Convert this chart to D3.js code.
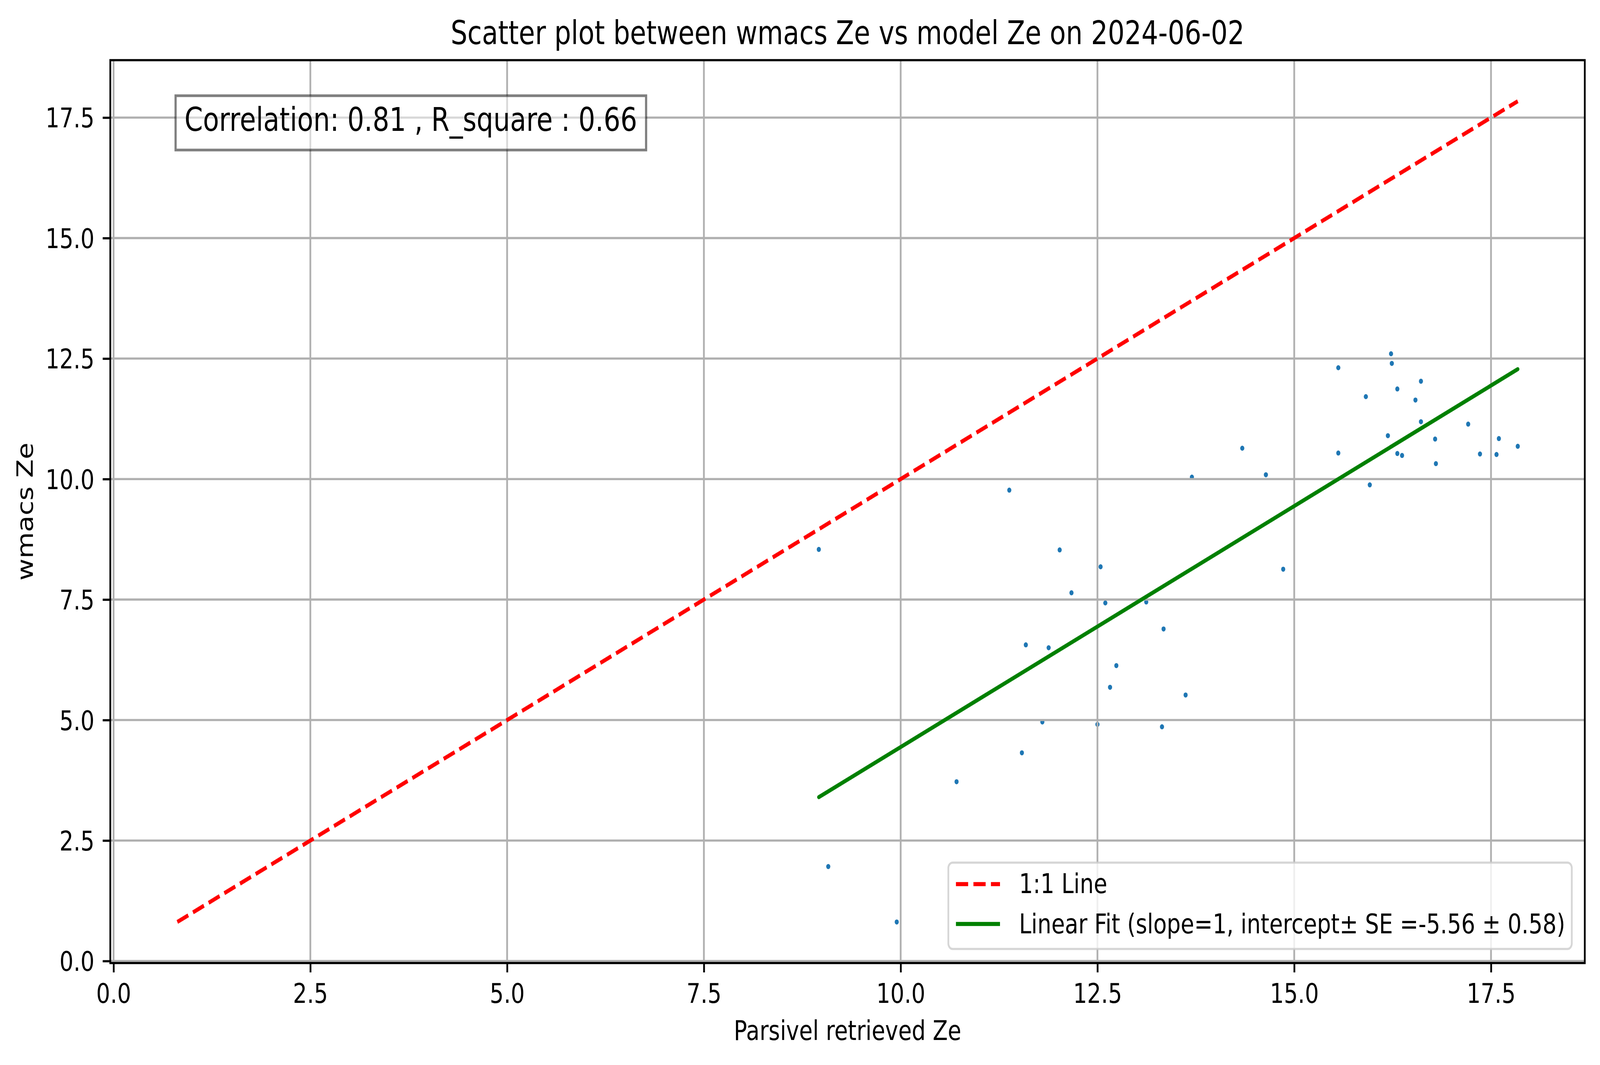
<!DOCTYPE html>
<html>
<head>
<meta charset="utf-8">
<script src="https://cdn.jsdelivr.net/npm/d3@7"></script>
<style>
  html, body { margin: 0; padding: 0; background: #fff; overflow: hidden; }
  svg { display: block; }
  text { font-family: "DejaVu Sans", sans-serif; fill: #000; }
</style>
</head>
<body>
<div id="chart"></div>
<script>
// scatter values
const parsivelZe = [8.96, 9.08, 9.95, 10.71, 11.38, 11.54, 11.59, 11.80, 11.88, 12.02,
  12.17, 12.50, 12.54, 12.60, 12.66, 12.74, 13.12, 13.32, 13.34, 13.62,
  13.70, 14.34, 14.64, 14.86, 15.56, 15.56, 15.91, 15.96, 16.19, 16.23,
  16.24, 16.31, 16.31, 16.37, 16.54, 16.61, 16.61, 16.79, 16.80, 17.21,
  17.36, 17.57, 17.60, 17.84];
const wmacsZe = [8.54, 1.96, 0.81, 3.72, 9.77, 4.32, 6.56, 4.96, 6.50, 8.53,
  7.64, 4.91, 8.18, 7.43, 5.68, 6.13, 7.45, 4.86, 6.89, 5.52,
  10.04, 10.64, 10.09, 8.13, 12.31, 10.54, 11.71, 9.88, 10.90, 12.60,
  12.40, 11.87, 10.53, 10.49, 11.64, 12.03, 11.19, 10.83, 10.32, 11.14,
  10.52, 10.51, 10.84, 10.68];
const fitSlope = 1, fitIntercept = -5.56, fitSE = 0.58;
const correlation = 0.81, rSquare = 0.66;
const xTicks = [0, 2.5, 5, 7.5, 10, 12.5, 15, 17.5];
const yTicks = [0, 2.5, 5, 7.5, 10, 12.5, 15, 17.5];
const legendLabels = ["1:1 Line",
  `Linear Fit (slope=${fitSlope}, intercept\u00b1 SE =${fitIntercept} \u00b1 ${fitSE})`];

const width = 5048, height = 2726;
const m = {left: 348, right: 5000, top: 154, bottom: 2465};
const colors = {pt: "#1f77b4", one: "#ff0000", fit: "#008000", grid: "#b0b0b0"};
const lw = 10.4;

const all = parsivelZe.concat(wmacsZe);
const lo = d3.min(all), hi = d3.max(all);
const padv = 0.05 * (hi - lo);

const x = d3.scaleLinear().domain([lo - padv, hi + padv]).range([m.left, m.right]);
const y = d3.scaleLinear().domain([lo - padv, hi + padv]).range([m.bottom, m.top]);
const fmt = d3.format(".1f");

// drawn in a fixed 5048x2726 box, stretched to fill the window
const svg = d3.select("#chart").append("svg")
  .attr("viewBox", `0 0 ${width} ${height}`)
  .attr("width", "100vw").attr("height", "100vh")
  .attr("preserveAspectRatio", "none");

svg.append("rect").attr("width", width).attr("height", height).attr("fill", "#fff");

// points sit under the grid like in matplotlib
const pts = parsivelZe.map((d, i) => ({x: d, y: wmacsZe[i]}));
svg.append("g").selectAll("circle").data(pts).enter().append("circle")
  .attr("cx", d => x(d.x)).attr("cy", d => y(d.y))
  .attr("r", 6.5).attr("fill", colors.pt);

// grid
let g_grid = svg.append("g");
g_grid.selectAll(".gx").data(xTicks).enter().append("line")
  .attr("x1", d => x(d)).attr("x2", d => x(d))
  .attr("y1", m.top).attr("y2", m.bottom)
  .attr("stroke", colors.grid).attr("stroke-width", 5.6);
g_grid.selectAll(".gy").data(yTicks).enter().append("line")
  .attr("y1", d => y(d)).attr("y2", d => y(d))
  .attr("x1", m.left).attr("x2", m.right)
  .attr("stroke", colors.grid).attr("stroke-width", 5.6);

// 1:1 line and fit
const line = d3.line().x(d => x(d[0])).y(d => y(d[1]));
svg.append("path").attr("d", line([[lo, lo], [hi, hi]]))
  .attr("stroke", colors.one).attr("stroke-width", lw).attr("fill", "none")
  .attr("stroke-dasharray", "38.5,16.7");
const xmin = d3.min(parsivelZe), xmax = d3.max(parsivelZe);
svg.append("path")
  .attr("d", line([[xmin, fitSlope * xmin + fitIntercept], [xmax, fitSlope * xmax + fitIntercept]]))
  .attr("stroke", colors.fit).attr("stroke-width", lw).attr("fill", "none")
  .attr("stroke-linecap", "round");

// axes
const xAxis = svg.append("g").attr("transform", `translate(0,${m.bottom})`)
  .call(d3.axisBottom(x).tickValues(xTicks).tickFormat(fmt).tickSize(24).tickPadding(0));
const yAxis = svg.append("g").attr("transform", `translate(${m.left},0)`)
  .call(d3.axisLeft(y).tickValues(yTicks).tickFormat(fmt).tickSize(24).tickPadding(0));
[xAxis, yAxis].forEach(a => {
  a.select(".domain").remove();
  a.selectAll(".tick line").attr("stroke", "#000").attr("stroke-width", 5.6);
  a.selectAll(".tick text").attr("font-size", 69.4)
    .attr("font-family", "DejaVu Sans").attr("fill", "#000");
});
xAxis.selectAll(".tick text").attr("dy", null).attr("y", 102);
yAxis.selectAll(".tick text").attr("dy", null).attr("x", -50).attr("y", 25);

svg.append("rect").attr("x", m.left).attr("y", m.top)
  .attr("width", m.right - m.left).attr("height", m.bottom - m.top)
  .attr("fill", "none").attr("stroke", "#000").attr("stroke-width", 5.6);

// titles
svg.append("text").attr("x", (m.left + m.right) / 2).attr("y", 113)
  .attr("text-anchor", "middle").attr("font-size", 83.3)
  .text("Scatter plot between wmacs Ze vs model Ze on 2024-06-02");
svg.append("text").attr("x", (m.left + m.right) / 2).attr("y", 2662)
  .attr("text-anchor", "middle").attr("font-size", 69.4)
  .text("Parsivel retrieved Ze");
svg.append("text")
  .attr("transform", `translate(103,${(m.top + m.bottom) / 2}) rotate(-90)`)
  .attr("text-anchor", "middle").attr("font-size", 69.4)
  .text("wmacs Ze");

// correlation box
let g_box = svg.append("g");
let box = g_box.append("rect");
let corr = g_box.append("text").attr("x", 582).attr("y", 335).attr("font-size", 83.3)
  .text(`Correlation: ${correlation} , R_square : ${rSquare}`);
let bb = corr.node().getBBox();
box.attr("x", bb.x - 28).attr("y", 245).attr("width", bb.width + 56).attr("height", 139)
  .attr("fill", "#fff").attr("fill-opacity", 0.5)
  .attr("stroke", "#000").attr("stroke-opacity", 0.5).attr("stroke-width", 6.9);

// legend
let g_leg = svg.append("g");
g_leg.append("rect").attr("x", 2992).attr("y", 2208).attr("width", 1967).attr("height", 221)
  .attr("rx", 14).attr("fill", "#fff").attr("fill-opacity", 0.8)
  .attr("stroke", "#cccccc").attr("stroke-opacity", 0.8).attr("stroke-width", 5.6);
const legRows = [{c: colors.one, dash: "38.5,16.7", cy: 2263, ty: 2286},
                 {c: colors.fit, dash: null, cy: 2365, ty: 2389}];
legRows.forEach((r, i) => {
  g_leg.append("line").attr("x1", 3016).attr("x2", 3155).attr("y1", r.cy).attr("y2", r.cy)
    .attr("stroke", r.c).attr("stroke-width", lw).attr("stroke-dasharray", r.dash);
  g_leg.append("text").attr("x", 3215).attr("y", r.ty).attr("font-size", 69.4)
    .text(legendLabels[i]);
});
</script>
</body>
</html>
